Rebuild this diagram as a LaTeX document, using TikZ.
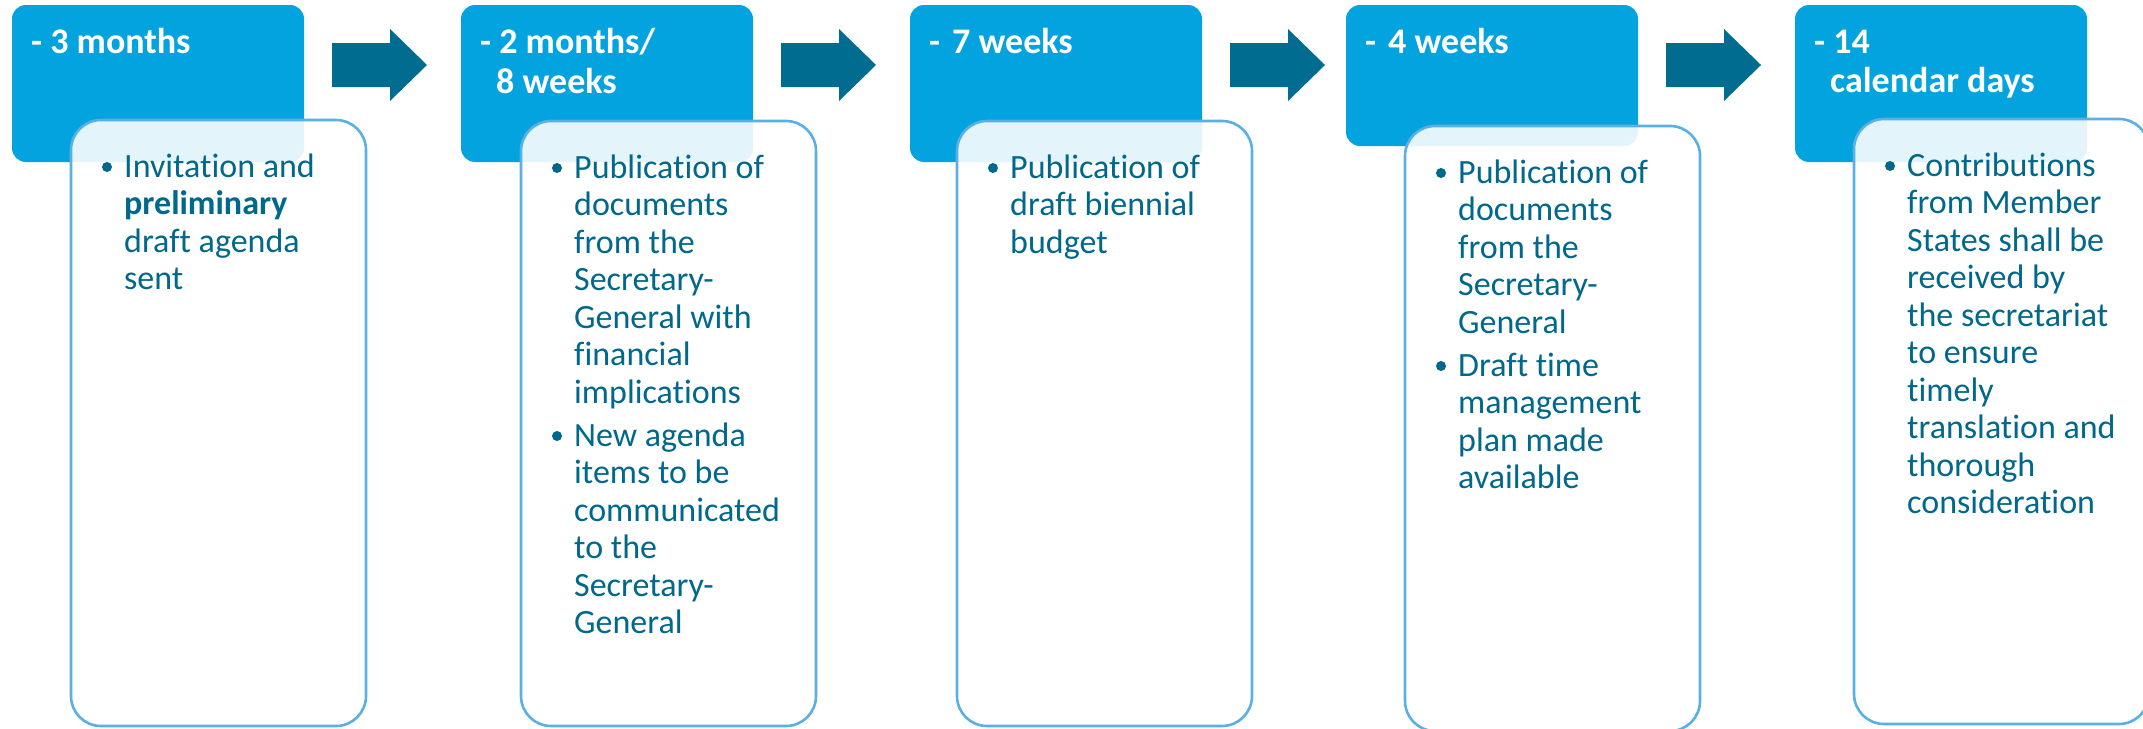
\documentclass[tikz,border=0pt]{standalone}
\usepackage{fontspec}
\setmainfont[Ligatures=NoCommon]{Carlito}
\usetikzlibrary{calc}
\definecolor{hdrblue}{RGB}{3,163,224}
\definecolor{arrowteal}{RGB}{0,108,143}
\definecolor{txtteal}{RGB}{0,104,139}
\definecolor{edgeblue}{RGB}{90,175,228}
\begin{document}
\begin{tikzpicture}[x=1pt,y=-1pt,
  hdrbox/.style={fill=hdrblue, draw=none, rounded corners=14pt, minimum width=292pt, minimum height=157pt, anchor=north west, inner sep=0pt, outer sep=0pt},
  bodybox/.style={fill=white, fill opacity=0.89, draw=edgeblue, line width=2.6pt, rounded corners=30pt, minimum width=295pt, minimum height=605pt, anchor=north west, inner sep=0pt, outer sep=0pt},
  hdrtext/.style={text=white, font=\fontsize{36}{40}\selectfont\bfseries, anchor=base west, inner sep=0pt, align=left},
  bodytext/.style={text=txtteal, font=\fontsize{34}{37.5}\selectfont, anchor=base west, inner sep=0pt},
  bulletdot/.style={fill=txtteal},
  blockarrow/.style={fill=arrowteal, draw=none}
]
\useasboundingbox (0,0) rectangle (2143,728);

% header boxes
\node[hdrbox] (h1) at (12,5) {};
\node[hdrbox] (h2) at (461,5) {};
\node[hdrbox] (h3) at (910,5) {};
\node[hdrbox, minimum height=141pt] (h4) at (1346,5) {};
\node[hdrbox] (h5) at (1795,5) {};

% body boxes
\node[bodybox, minimum height=606pt] (b1) at (71,120) {};
\node[bodybox] (b2) at (521,121) {};
\node[bodybox] (b3) at (957,121) {};
\node[bodybox] (b4) at (1405,126) {};
\node[bodybox] (b5) at (1854,119) {};

% block arrows
\foreach \i in {1,2,3,4}{
  \fill[blockarrow] ($(h\i.north east)+(28,38)$) -- ++(58,0) -- ++(0,-14) -- ++(37,36) -- ++(-37,36) -- ++(0,-14) -- ++(-58,0) -- cycle;
}

% header texts
\node[hdrtext] (t1) at ($(h1.north west)+(19,48)$) {- 3 months};
\node[hdrtext] (t2a) at ($(h2.north west)+(19,48)$) {- 2 months/};
\node[hdrtext] (t2b) at ($(h2.north west)+(35,88)$) {8 weeks};
\node[hdrtext] (t3) at ($(h3.north west)+(19,48)$) {-\hspace{12pt}7 weeks};
\node[hdrtext] (t4) at ($(h4.north west)+(19,48)$) {-\hspace{12pt}4 weeks};
\node[hdrtext] (t5a) at ($(h5.north west)+(19,48)$) {- 14};
\node[hdrtext] (t5b) at ($(h5.north west)+(35,87)$) {calendar days};

% body texts
\node[bodytext] (p1) at ($(b1.north west)+(53,57)$) {\begin{tabular}[t]{@{}l@{}}Invitation and\\\textbf{preliminary}\\draft agenda\\sent\end{tabular}};
\fill[bulletdot] ($(b1.north west)+(36,47)$) circle (5pt);

\node[bodytext] (p2a) at ($(b2.north west)+(53,57)$) {\begin{tabular}[t]{@{}l@{}}Publication of\\documents\\from the\\Secretary-\\General with\\financial\\implications\end{tabular}};
\fill[bulletdot] ($(b2.north west)+(36,47)$) circle (5pt);
\node[bodytext] (p2b) at ($(b2.north west)+(53,325)$) {\begin{tabular}[t]{@{}l@{}}New agenda\\items to be\\communicated\\to the\\Secretary-\\General\end{tabular}};
\fill[bulletdot] ($(b2.north west)+(36,315)$) circle (5pt);

\node[bodytext] (p3) at ($(b3.north west)+(53,57)$) {\begin{tabular}[t]{@{}l@{}}Publication of\\draft biennial\\budget\end{tabular}};
\fill[bulletdot] ($(b3.north west)+(36,47)$) circle (5pt);

\node[bodytext] (p4a) at ($(b4.north west)+(53,57)$) {\begin{tabular}[t]{@{}l@{}}Publication of\\documents\\from the\\Secretary-\\General\end{tabular}};
\fill[bulletdot] ($(b4.north west)+(36,47)$) circle (5pt);
\node[bodytext] (p4b) at ($(b4.north west)+(53,250)$) {\begin{tabular}[t]{@{}l@{}}Draft time\\management\\plan made\\available\end{tabular}};
\fill[bulletdot] ($(b4.north west)+(36,240)$) circle (5pt);

\node[bodytext] (p5) at ($(b5.north west)+(53,57)$) {\begin{tabular}[t]{@{}l@{}}Contributions\\from Member\\States shall be\\received by\\the secretariat\\to ensure\\timely\\translation and\\thorough\\consideration\end{tabular}};
\fill[bulletdot] ($(b5.north west)+(36,47)$) circle (5pt);
\end{tikzpicture}
\end{document}
